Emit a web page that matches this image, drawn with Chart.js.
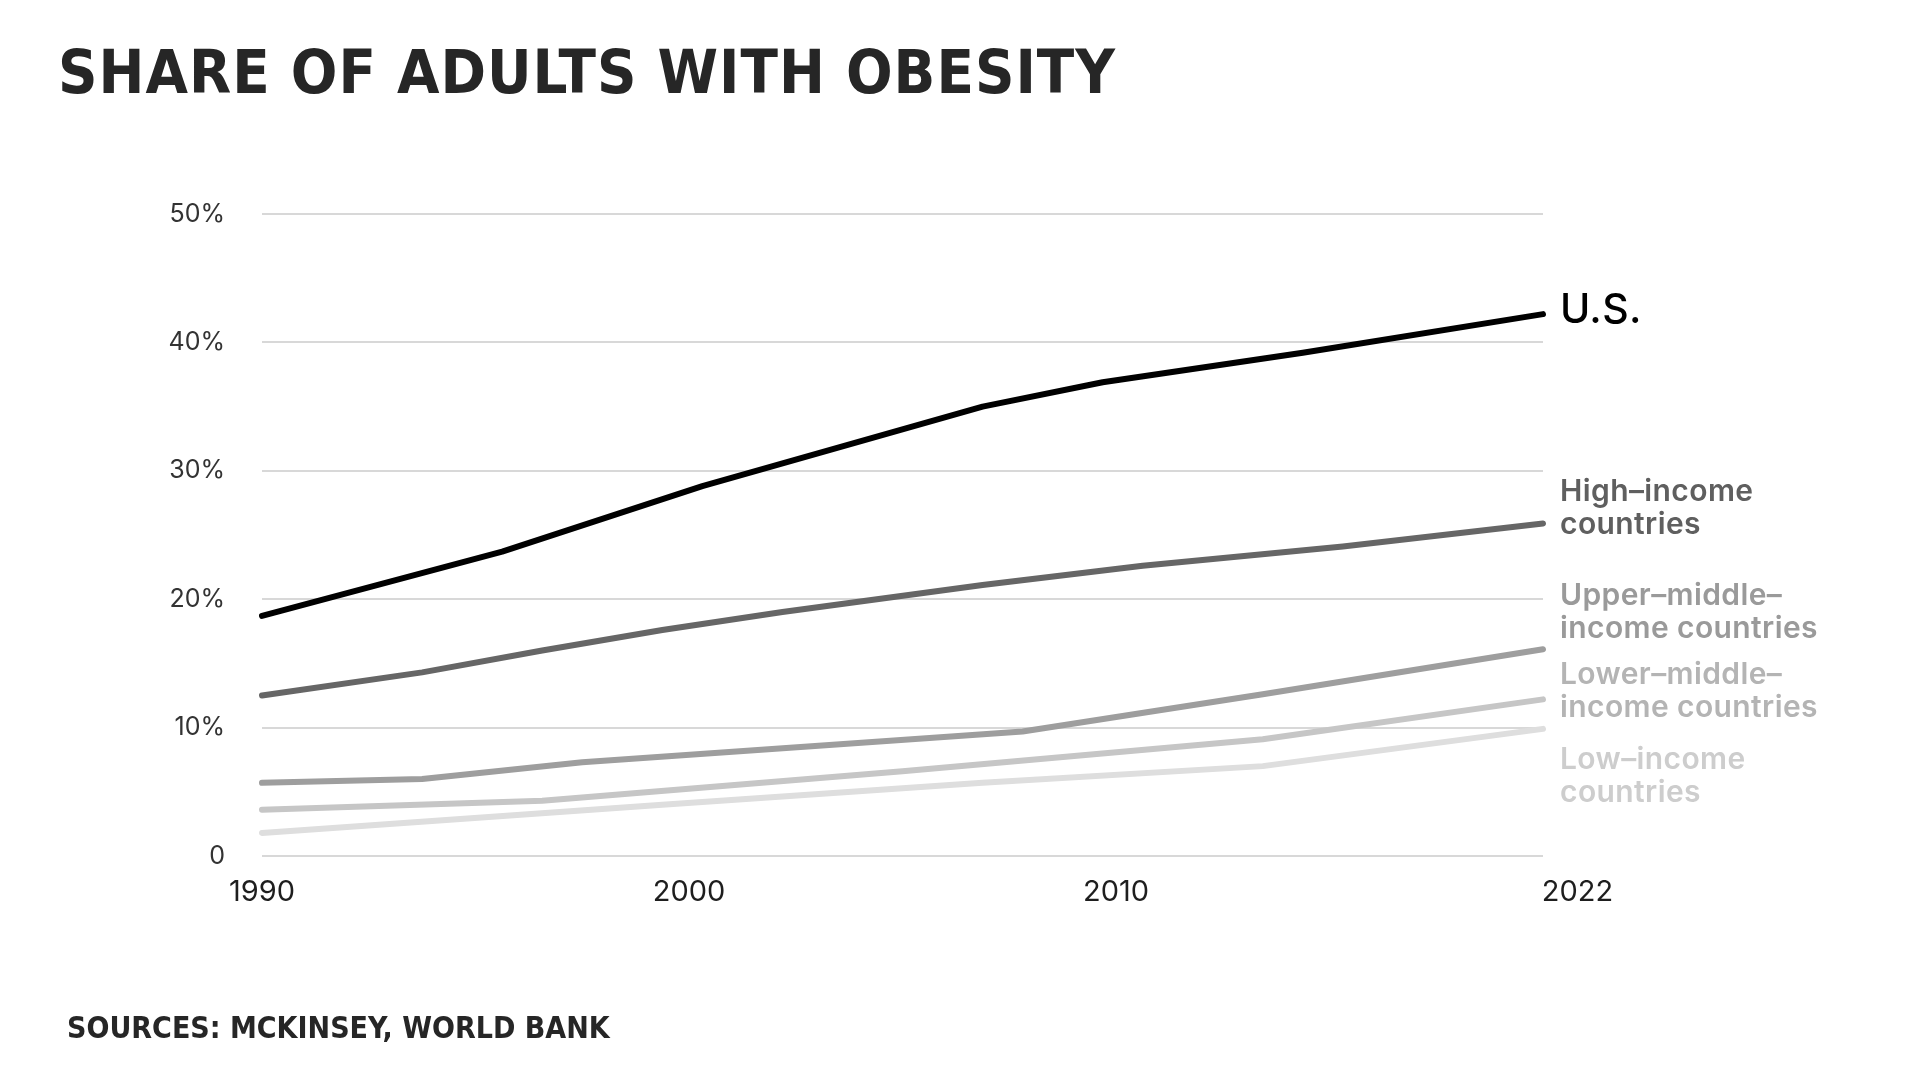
<!DOCTYPE html>
<html>
<head>
<meta charset="utf-8">
<script src="https://cdn.jsdelivr.net/npm/chart.js@4.4.1/dist/chart.umd.min.js"></script>
<style>
  html, body { margin: 0; padding: 0; background: #fff; }
  .wrap { position: relative; width: 1920px; height: 1080px; overflow: hidden; }
  canvas { position: absolute; left: 0; top: 0; }
  .title {
    position: absolute; left: 58px; top: 41px;
    font-family: "DejaVu Sans Condensed", "Liberation Sans Narrow", sans-serif;
    font-weight: bold; font-size: 61px; line-height: 1; color: #262626;
    letter-spacing: 1px;
  }
  .source {
    position: absolute; left: 67px; top: 1013px;
    font-family: "DejaVu Sans Condensed", "Liberation Sans Narrow", sans-serif;
    font-weight: bold; font-size: 30px; line-height: 1; color: #262626;
  }
</style>
</head>
<body>
<div class="wrap">
  <canvas id="chart" width="1920" height="1080"></canvas>
  <div class="title">SHARE OF ADULTS WITH OBESITY</div>
  <div class="source">SOURCES: MCKINSEY, WORLD BANK</div>
</div>
<script>
// values, percent of adults
const usYears = [1990, 1996, 2001, 2008, 2011, 2016, 2022];
const usValues = [18.7, 23.7, 28.8, 35.0, 36.9, 39.2, 42.2];

const highYears = [1990, 1994, 1997, 2000, 2003, 2008, 2012, 2017, 2022];
const highValues = [12.5, 14.3, 16.0, 17.6, 19.0, 21.1, 22.6, 24.1, 25.9];

const upperYears = [1990, 1994, 1998, 2009, 2015, 2022];
const upperValues = [5.7, 6.0, 7.3, 9.7, 12.6, 16.1];

const lowerYears = [1990, 1997, 2006, 2015, 2022];
const lowerValues = [3.6, 4.3, 6.6, 9.1, 12.2];

const lowYears = [1990, 2000, 2008, 2015, 2022];
const lowValues = [1.8, 4.0, 5.7, 7.0, 9.9];

// the source spaces its year labels evenly along the axis
const xTickLabels = ['1990', '2000', '2010', '2022'];
const yTicks = [0, 10, 20, 30, 40, 50];

// end labels: text lines, colour, size, anchor value on y axis
const endLabels = [
  { lines: ['U.S.'], color: '#000000', size: 41, weight: 500, at: 42.5 },
  { lines: ['High–income', 'countries'], color: '#5f5f5f', size: 30, weight: 600, at: 27.1 },
  { lines: ['Upper–middle–', 'income countries'], color: '#9a9a9a', size: 30, weight: 600, at: 19.0 },
  { lines: ['Lower–middle–', 'income countries'], color: '#b4b4b4', size: 30, weight: 600, at: 12.85 },
  { lines: ['Low–income', 'countries'], color: '#cdcdcd', size: 30, weight: 600, at: 6.2 }
];

const FONT = 'Inter, "Open Sans", Lato, sans-serif';

function pts(xs, ys) {
  return xs.map((x, i) => ({ x: x, y: ys[i] }));
}

function series(label, xs, ys, color) {
  return {
    label: label,
    data: pts(xs, ys),
    borderColor: color,
    borderWidth: 6,
    pointRadius: 0,
    tension: 0,
    borderCapStyle: 'round',
    borderJoinStyle: 'round',
    fill: false
  };
}

const endLabelPlugin = {
  id: 'endLabels',
  afterDatasetsDraw(chart) {
    const ctx = chart.ctx;
    const y = chart.scales.y;
    const x0 = chart.chartArea.right + 17;
    ctx.save();
    ctx.textAlign = 'left';
    ctx.textBaseline = 'middle';
    ctx.letterSpacing = '0.4px';
    endLabels.forEach(l => {
      ctx.font = l.weight + ' ' + l.size + 'px ' + FONT;
      ctx.fillStyle = l.color;
      const lh = 33;
      const top = y.getPixelForValue(l.at) - (l.lines.length - 1) * lh / 2;
      l.lines.forEach((t, i) => ctx.fillText(t, x0, top + i * lh));
    });
    ctx.restore();
  }
};

new Chart(document.getElementById('chart').getContext('2d'), {
  type: 'line',
  data: {
    datasets: [
      series('Low-income countries', lowYears, lowValues, '#dedede'),
      series('Lower-middle-income countries', lowerYears, lowerValues, '#c6c6c6'),
      series('Upper-middle-income countries', upperYears, upperValues, '#9e9e9e'),
      series('High-income countries', highYears, highValues, '#666666'),
      series('U.S.', usYears, usValues, '#000000')
    ]
  },
  options: {
    responsive: false,
    animation: false,
    clip: false,
    layout: { padding: { top: 214, right: 377, bottom: 0, left: 0 } },
    plugins: {
      legend: { display: false },
      tooltip: { enabled: false }
    },
    scales: {
      x: {
        type: 'linear',
        min: 1990,
        max: 2022,
        afterBuildTicks: s => {
          const step = (s.max - s.min) / (xTickLabels.length - 1);
          s.ticks = xTickLabels.map((t, i) => ({ value: s.min + i * step }));
          // last label sits just right of the axis end, as in the source
          s.ticks[s.ticks.length - 1].value += 0.86;
        },
        afterFit: s => { s.height = 224; },
        grid: { display: false, drawTicks: false },
        border: { display: false },
        ticks: {
          padding: 19,
          color: '#1e1e1e',
          font: { family: FONT, size: 29 },
          callback: (v, i) => xTickLabels[i]
        }
      },
      y: {
        min: 0,
        max: 50,
        afterBuildTicks: s => { s.ticks = yTicks.map(v => ({ value: v })); },
        afterFit: s => { s.width = 262; },
        grid: { color: '#d8d8d8', lineWidth: 2, drawTicks: false },
        border: { display: false },
        ticks: {
          padding: 37,
          color: '#333333',
          font: { family: FONT, size: 25 },
          callback: v => v === 0 ? '0' : v + '%'
        }
      }
    }
  },
  plugins: [endLabelPlugin]
});
</script>
</body>
</html>
